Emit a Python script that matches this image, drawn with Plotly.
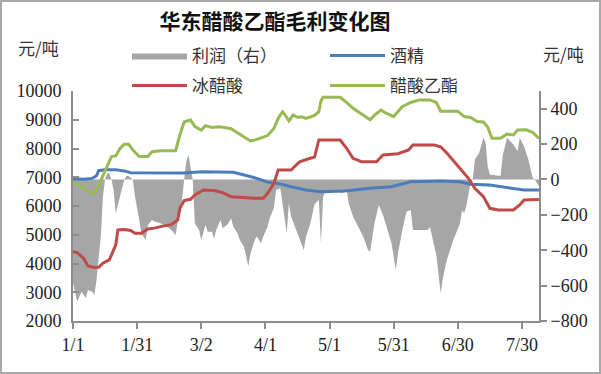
import datetime as dt
import plotly.graph_objects as go

start = dt.date(2021, 1, 1)

# ---- data (day offsets from 1/1) ----
profit_days = [0, 1, 2, 4, 6, 7, 9, 10, 11, 13, 14, 15, 16, 17, 18, 19, 20, 22, 24, 25, 26, 28, 29, 31, 32, 34,
               35, 37, 38, 41, 44, 46, 48, 49, 51, 52, 53, 54, 55, 56, 57, 59, 60, 62, 63, 65, 66, 67, 69, 70,
               72, 74, 75, 77, 78, 80, 82, 83, 85, 86, 88, 89, 91, 92, 94, 95, 97, 99, 100, 101, 102, 105, 108,
               109, 111, 113, 115, 116, 117, 118, 124, 126, 128, 129, 131, 134, 136, 138, 139, 141, 143, 145,
               146, 149, 151, 152, 154, 156, 158, 159, 166, 167, 170, 172, 173, 175, 178, 181, 182, 183, 184,
               186, 187, 188, 190, 192, 193, 194, 195, 199, 200, 201, 203, 206, 208, 209, 211, 213, 215, 216, 218]
profit_vals = [-587, -643, -691, -634, -672, -625, -634, -653, -568, -323, -97, 0, 35, 35, 0, -60, -191, -97, 0, 20,
               20, 0, -97, -229, -304, -342, -257, -229, -238, -248, -267, -286, -314, -238, -116, 0, 100, 140, 60,
               0, -248, -286, -342, -257, -295, -295, -333, -286, -229, -276, -257, -220, -267, -304, -342, -380,
               -490, -420, -342, -323, -361, -323, -267, -220, -160, -60, -50, -210, -304, -135, -210, -304, -399,
               -323, -250, -140, -116, -361, -100, -69, -69, -78, -60, -135, -210, -280, -330, -399, -408, -250,
               -144, -200, -240, -360, -512, -420, -290, -182, -173, -286, -286, -267, -430, -643, -560, -450,
               -340, -250, -175, -190, -150, -20, 0, 113, 150, 236, 207, 75, 28, 19, 19, 132, 236, 198, 160, 236,
               188, 113, 9, 0, -38]

alcohol_days = [0, 5, 9, 11, 12, 15, 20, 24, 27, 34, 45, 52, 60, 68, 75, 81, 86, 91, 97, 102, 109, 116, 127, 139,
                149, 158, 172, 181, 186, 195, 202, 211, 218]
alcohol_vals = [6950, 6930, 6960, 7050, 7230, 7260, 7260, 7220, 7160, 7150, 7140, 7150, 7195, 7195, 7170, 7060,
                6960, 6830, 6770, 6672, 6560, 6500, 6520, 6616, 6672, 6846, 6870, 6846, 6755, 6730, 6650, 6557, 6557]

acid_days = [0, 2, 5, 7, 10, 12, 14, 17, 20, 21, 24, 27, 29, 32, 35, 38, 42, 46, 49, 50, 52, 55, 57, 61, 66, 70,
             74, 78, 85, 89, 91, 94, 96, 102, 106, 111, 113, 115, 125, 128, 131, 135, 142, 145, 152, 157, 159, 169,
             172, 175, 179, 182, 185, 188, 192, 195, 199, 206, 209, 211, 218]
acid_vals = [4413, 4380, 4180, 3915, 3860, 3870, 4010, 4125, 4645, 5167, 5180, 5150, 5050, 5050, 5200, 5230, 5300,
             5350, 5515, 5920, 6187, 6233, 6383, 6557, 6540, 6465, 6324, 6300, 6268, 6268, 6442, 6790, 7252, 7252,
             7540, 7660, 7700, 8296, 8296, 8007, 7660, 7540, 7540, 7774, 7820, 7948, 8122, 8122, 8060, 7832, 7484,
             7252, 6963, 6616, 6326, 5920, 5861, 5861, 6035, 6209, 6230]

ester_days = [0, 3, 7, 10, 11, 13, 16, 18, 20, 22, 24, 26, 28, 31, 35, 37, 41, 48, 50, 52, 55, 57, 60, 62, 65, 68,
              71, 74, 76, 78, 81, 83, 85, 88, 91, 94, 96, 98, 99, 101, 103, 105, 107, 109, 113, 115, 116, 117, 125,
              128, 131, 135, 139, 141, 144, 146, 150, 154, 158, 162, 167, 170, 172, 177, 180, 183, 186, 189, 192,
              194, 196, 200, 203, 206, 208, 212, 215, 218]
ester_vals = [6850, 6730, 6520, 6440, 6550, 6900, 7370, 7720, 7740, 8000, 8150, 8150, 7950, 7720, 7720, 7890, 7925,
              7925, 8470, 8930, 8990, 8760, 8640, 8795, 8730, 8760, 8730, 8690, 8590, 8500, 8350, 8260, 8290, 8370,
              8450, 8700, 9050, 9280, 9190, 8960, 9165, 9085, 9100, 9050, 9150, 9280, 9650, 9780, 9780, 9600, 9400,
              9200, 9000, 9150, 9338, 9250, 9110, 9455, 9600, 9690, 9690, 9600, 9300, 9300, 9300, 9110, 9080, 8940,
              8920, 8750, 8354, 8354, 8500, 8470, 8640, 8650, 8560, 8350]

tick_days = [0, 30, 60, 90, 120, 150, 180, 210]
tick_labels = ["1/1", "1/31", "3/2", "4/1", "5/1", "5/31", "6/30", "7/30"]
x_end_day = 218.4

names = ["利润（右）", "酒精", "冰醋酸", "醋酸乙酯"]
title_text = "华东醋酸乙酯毛利变化图"
unit_text = "元/吨"


def to_dates(days):
    return [start + dt.timedelta(days=d) for d in days]


BLUE = "#4A7EBB"
RED = "#BE4B48"
GREEN = "#98B954"
GRAY = "#A6A6A6"
AXIS = "#8C8C8C"
NUM_FONT = "'Liberation Serif', 'Noto Sans CJK SC', serif"
CJK_FONT = "'Noto Sans CJK SC', sans-serif"

fig = go.Figure()
fig.add_trace(go.Scatter(x=to_dates(profit_days), y=profit_vals, name=names[0], mode="lines",
                         fill="tozeroy", fillcolor=GRAY, line=dict(width=0, color=GRAY),
                         yaxis="y", legend="legend"))
fig.add_trace(go.Scatter(x=to_dates(alcohol_days), y=alcohol_vals, name=names[1], mode="lines",
                         line=dict(color=BLUE, width=3), yaxis="y2", legend="legend"))
fig.add_trace(go.Scatter(x=to_dates(acid_days), y=acid_vals, name=names[2], mode="lines",
                         line=dict(color=RED, width=3), yaxis="y2", legend="legend2"))
fig.add_trace(go.Scatter(x=to_dates(ester_days), y=ester_vals, name=names[3], mode="lines",
                         line=dict(color=GREEN, width=3), yaxis="y2", legend="legend2"))

W, H = 601, 374
ML, MR, MT, MB = 73, 62, 91, 53
PW, PH = W - ML - MR, H - MT - MB

legend_common = dict(orientation="h", xanchor="left", yanchor="top", bgcolor="rgba(0,0,0,0)",
                     font=dict(family=CJK_FONT, size=17, color="#333333"), entrywidth=128,
                     itemwidth=55, tracegroupgap=0)

tick_font = dict(family=NUM_FONT, size=18, color="#222222")

fig.update_layout(
    width=W, height=H,
    margin=dict(l=ML, r=MR, t=MT, b=MB, pad=0),
    paper_bgcolor="white", plot_bgcolor="white",
    title=dict(text=title_text, x=275 / W, xanchor="center", y=1 - 22 / H, yanchor="middle",
               font=dict(family=CJK_FONT, size=21, color="#111111", weight="bold")),
    showlegend=True,
    legend=dict(x=(127 - ML) / PW, y=1 + (MT - 38) / PH, **legend_common),
    legend2=dict(x=(127 - ML) / PW, y=1 + (MT - 68) / PH, **legend_common),
    xaxis=dict(type="date", range=[start, start + dt.timedelta(days=x_end_day)],
               tickvals=to_dates(tick_days), ticktext=tick_labels,
               showline=True, linecolor=AXIS, linewidth=2, ticks="outside", ticklen=6,
               tickcolor=AXIS, tickwidth=2, showgrid=False, zeroline=False, tickfont=tick_font),
    yaxis=dict(range=[-800, 500], tick0=0, dtick=200, side="right", showline=True, linecolor=AXIS,
               linewidth=2, ticks="outside", ticklen=6, tickcolor=AXIS, tickwidth=2, showgrid=False,
               zeroline=False, tickformat="d", tickfont=tick_font),
    yaxis2=dict(range=[2000, 10000], dtick=1000, side="left", overlaying="y", showline=True,
                linecolor=AXIS, linewidth=2, ticks="inside", ticklen=6, tickcolor=AXIS, tickwidth=2,
                showgrid=False, zeroline=False, ticklabelstandoff=6, tickformat="d", tickfont=tick_font),
    annotations=[
        dict(text=unit_text, xref="paper", yref="paper", x=(38 - ML) / PW, y=1 + (MT - 47) / PH,
             xanchor="center", yanchor="middle", showarrow=False,
             font=dict(family=CJK_FONT, size=17, color="#333333")),
        dict(text=unit_text, xref="paper", yref="paper", x=(563 - ML) / PW, y=1 + (MT - 53) / PH,
             xanchor="center", yanchor="middle", showarrow=False,
             font=dict(family=CJK_FONT, size=17, color="#333333")),
    ],
    shapes=[dict(type="rect", xref="paper", yref="paper", x0=-ML / PW, x1=1 + MR / PW,
                 y0=-MB / PH, y1=1 + MT / PH, line=dict(color="#A8A8A8", width=4), layer="below")],
)

fig.write_html("out.html")
